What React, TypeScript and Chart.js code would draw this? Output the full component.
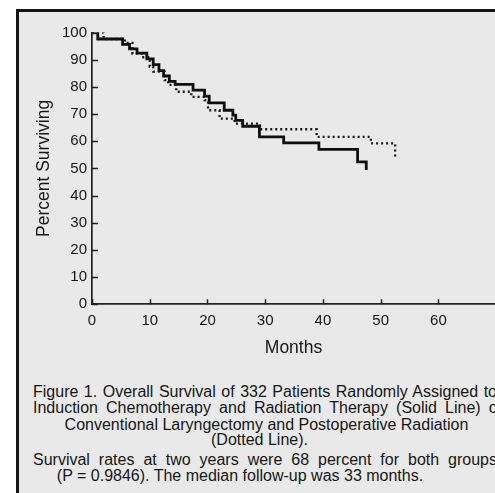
import React, { useEffect, useRef } from "react";
import { Chart, registerables } from "chart.js";

Chart.register(...registerables);

// Kaplan–Meier style survival curves (months, percent surviving)
const solidMonths = [0, 1, 5.3, 6.5, 7.8, 9.5, 10.6, 11.6, 12.4, 13.4, 14.4, 17.5, 19.5, 20.3, 22.9, 24.4, 24.9, 26.1, 29, 33.2, 39.3, 46, 47.5];
const solidPct = [100, 97.6, 95.6, 94, 92.4, 90.3, 88.2, 86, 84, 82, 80.9, 78.8, 76.6, 74.1, 71.4, 69.6, 67.7, 65.5, 61.6, 59.4, 57, 52.4, 49.4];

const dottedMonths = [0, 2, 5.7, 7.0, 8.6, 10.0, 10.6, 12.6, 13.2, 14.6, 17.2, 19.5, 20.1, 22.1, 24.7, 29.1, 38.9, 48.3, 52.5];
const dottedPct = [100, 97.6, 96.2, 92.2, 90.9, 87.5, 85.6, 82.5, 80.7, 78.2, 76.3, 75.1, 71.4, 68.3, 66.5, 64.4, 61.6, 59.2, 54.2];

const yTickValues = [0, 10, 20, 30, 40, 50, 60, 70, 80, 90, 100];
const xTickValues = [0, 10, 20, 30, 40, 50, 60];

const yTitle = "Percent Surviving";
const xTitle = "Months";

const captionLines = [
  "Figure 1. Overall Survival of 332 Patients Randomly Assigned to",
  "Induction Chemotherapy and Radiation Therapy (Solid Line) or",
  "Conventional Laryngectomy and Postoperative Radiation",
  "(Dotted Line).",
  "Survival rates at two years were 68 percent for both groups",
  "(P = 0.9846). The median follow-up was 33 months.",
];

const FONT = "'Liberation Sans', Arial, Helvetica, sans-serif";
const INK = "#161616";

const innerTicks = {
  id: "innerTicks",
  afterDatasetsDraw(chart: any) {
    const { ctx, chartArea, scales } = chart;
    ctx.save();
    ctx.strokeStyle = "#222222";
    ctx.lineWidth = 1.5;
    scales.y.ticks.forEach((t: any) => {
      const py = Math.round(scales.y.getPixelForValue(t.value)) + 0.5;
      ctx.beginPath();
      ctx.moveTo(chartArea.left, py);
      ctx.lineTo(chartArea.left + 6, py);
      ctx.stroke();
    });
    scales.x.ticks.forEach((t: any) => {
      const px = Math.round(scales.x.getPixelForValue(t.value)) + 0.5;
      ctx.beginPath();
      ctx.moveTo(px, chartArea.bottom);
      ctx.lineTo(px, chartArea.bottom - 5);
      ctx.stroke();
    });
    ctx.restore();
  },
};

function ChartCanvas() {
  const ref = useRef<HTMLCanvasElement | null>(null);
  useEffect(() => {
    if (!ref.current) return;
    const chart = new Chart(ref.current, {
      type: "line",
      data: {
        datasets: [
          {
            label: "Conventional laryngectomy + postoperative radiation",
            data: dottedMonths.map((m, i) => ({ x: m, y: dottedPct[i] })),
            borderColor: "#141414",
            borderWidth: 2.3,
            borderDash: [2, 3],
            stepped: true,
            pointRadius: 0,
            fill: false,
          },
          {
            label: "Induction chemotherapy + radiation therapy",
            data: solidMonths.map((m, i) => ({ x: m, y: solidPct[i] })),
            borderColor: "#0e0e0e",
            borderWidth: 2.8,
            stepped: true,
            pointRadius: 0,
            fill: false,
          },
        ],
      },
      options: {
        responsive: false,
        animation: false,
        layout: { padding: { left: 20, top: 32.5, right: 0, bottom: 0 } },
        plugins: { legend: { display: false }, tooltip: { enabled: false } },
        scales: {
          x: {
            type: "linear",
            min: 0,
            max: 69.8,
            afterBuildTicks: (s: any) => {
              s.ticks = xTickValues.map((v) => ({ value: v }));
            },
            afterFit: (s: any) => {
              s.height = 55.7;
            },
            grid: { display: false, drawTicks: false },
            border: { display: true, color: "#222222", width: 1.7 },
            ticks: {
              padding: 8,
              color: INK,
              font: { family: FONT, size: 15 },
              maxRotation: 0,
            },
            title: {
              display: true,
              text: xTitle,
              color: INK,
              font: { family: FONT, size: 17.5, lineHeight: 1.2 },
              padding: { top: 0, bottom: 1.5 },
            },
          },
          y: {
            type: "linear",
            min: 0,
            max: 100,
            afterBuildTicks: (s: any) => {
              s.ticks = yTickValues.map((v) => ({ value: v }));
            },
            afterFit: (s: any) => {
              s.width = 72;
            },
            grid: { display: false, drawTicks: false },
            border: { display: true, color: "#222222", width: 1.7 },
            ticks: {
              padding: 5,
              color: INK,
              font: { family: FONT, size: 15 },
            },
            title: {
              display: true,
              text: yTitle,
              color: INK,
              font: { family: FONT, size: 17.5, lineHeight: 1.2 },
              padding: { top: 13.5, bottom: 0 },
            },
          },
        },
      },
      plugins: [innerTicks],
    });
    return () => chart.destroy();
  }, []);
  return (
    <canvas
      ref={ref}
      width={495}
      height={360}
      style={{ position: "absolute", left: 0, top: 0, width: 495, height: 360 }}
    />
  );
}

const lineStyle = (top: number): React.CSSProperties => ({
  position: "absolute",
  top,
  height: 16,
  lineHeight: "16px",
  fontFamily: FONT,
  fontSize: 16,
  color: INK,
  whiteSpace: "nowrap",
});

export default function App() {
  return (
    <div
      style={{
        position: "absolute",
        left: 0,
        top: 0,
        width: 495,
        height: 493,
        overflow: "hidden",
        background: "#ffffff",
      }}
    >
      <div
        style={{
          position: "absolute",
          left: 16,
          top: 9,
          width: 520,
          height: 520,
          borderTop: "3px solid #151515",
          borderLeft: "3px solid #151515",
          background: "#e9e9e9",
        }}
      />
      <ChartCanvas />
      <div style={{ ...lineStyle(384), left: 33, width: 464, textAlign: "justify", textAlignLast: "justify" }}>
        {captionLines[0]}
      </div>
      <div style={{ ...lineStyle(400), left: 33, width: 470, textAlign: "justify", textAlignLast: "justify" }}>
        {captionLines[1]}
      </div>
      <div style={{ ...lineStyle(417), left: 0, width: 533, textAlign: "center" }}>{captionLines[2]}</div>
      <div style={{ ...lineStyle(432), left: 0, width: 519, textAlign: "center" }}>{captionLines[3]}</div>
      <div style={{ ...lineStyle(452), left: 33, width: 464, textAlign: "justify", textAlignLast: "justify" }}>
        {captionLines[4]}
      </div>
      <div style={{ ...lineStyle(468), left: 0, width: 480, textAlign: "center" }}>{captionLines[5]}</div>
    </div>
  );
}
